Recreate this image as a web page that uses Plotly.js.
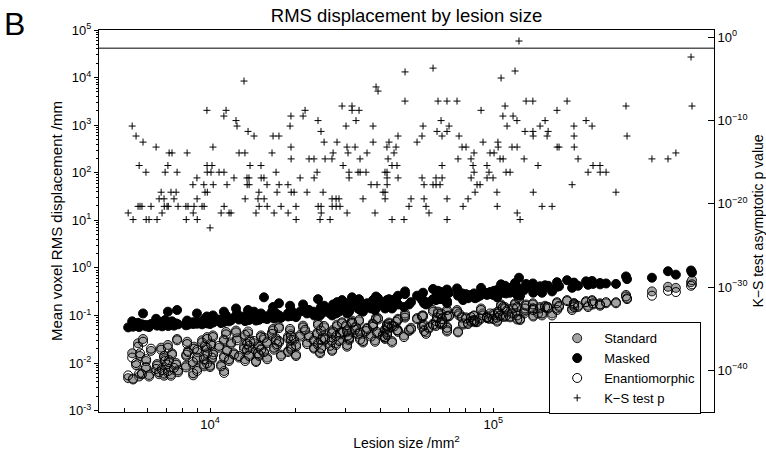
<!DOCTYPE html>
<html>
<head>
<meta charset="utf-8">
<script src="https://cdn.plot.ly/plotly-3.0.1.min.js"></script>
<style>
  html, body { margin: 0; padding: 0; background: #fff; }
  #chart { width: 766px; height: 457px; }
</style>
</head>
<body>
<div id="chart"></div>
<script>
// lesion size /mm^2, one entry per lesion
var lesionSize = [
  5140,5310,5350,5480,5570,5620,5660,5750,5800,5940,
  5950,6090,6190,6450,6500,6610,6720,6770,6880,6890,
  6940,7050,7100,7120,7170,7280,7340,7460,7590,7650,
  7710,8220,8240,8300,8360,8700,8720,8780,8990,9000,
  9010,9370,9510,9530,9600,9750,9760,9770,9780,10000,
  10080,10160,10240,10260,10760,10940,11190,11200,11210,11390,
  11480,11670,11860,12150,12350,12450,12660,13180,13280,13300,
  13500,13520,13620,13720,13740,13840,14300,14530,14770,14880,
  14900,15130,15150,15500,15520,15890,15910,16550,16690,16830,
  17100,17240,17510,17530,17810,18840,18860,19160,19300,19310,
  19330,19340,19800,20110,20130,20790,21300,21650,22000,22360,
  23280,23300,23870,24050,24070,24450,24640,24660,24680,25060,
  25270,25470,26530,26940,26960,26980,27190,27850,27870,28070,
  28530,28760,29240,29480,30200,30440,30460,30700,30940,30960,
  31700,31720,32500,32760,33300,33570,33840,33860,34670,35530,
  35820,37010,37610,37630,38230,38550,38860,39170,40800,41450,
  41470,41490,42120,42140,42160,42180,42500,42830,43880,43900,
  44610,45340,45710,46080,46100,48390,48770,48790,50390,51220,
  53790,56010,56030,56480,56940,56960,57870,59290,61250,61270,
  62760,62780,63280,63800,64850,65390,65900,65920,65940,68610,
  68630,68650,68670,69770,74450,75060,75680,77550,78190,80110,
  81430,83420,83460,84800,85480,85520,86200,87600,89780,90510,
  91980,94980,95020,96560,97360,99770,100600,103000,103200,103800,
  104000,105600,106500,108100,108300,110000,110900,111800,114600,116400,
  117400,119300,121200,121300,121400,123200,124300,128400,129400,130500,
  137900,138000,138200,138300,143800,146200,148600,152300,154800,156100,
  161200,167800,168000,170600,182100,189700,192600,192800,193000,199100,
  212500,216000,223100,224900,238000,238200,250000,271000,294000,296500,
  363000,413600,441000,498800,502800
];

// mean voxel RMS displacement /mm, standard registration
var standardRms = [
  0.0048,0.016,0.0045,0.009,0.026,0.0052,0.014,0.0062,0.032,0.0075,
  0.011,0.0056,0.018,0.0068,0.0095,0.0058,0.021,0.0078,0.013,0.0054,
  0.012,0.0085,0.024,0.0062,0.0105,0.0058,0.016,0.0072,0.010,0.032,
  0.0064,0.0088,0.014,0.028,0.018,0.0095,0.0055,0.022,0.012,0.0075,
  0.017,0.030,0.013,0.0085,0.024,0.019,0.011,0.035,0.015,0.0082,
  0.026,0.012,0.038,0.017,0.021,0.0092,0.029,0.014,0.0068,0.045,
  0.019,0.011,0.025,0.016,0.048,0.033,0.013,0.022,0.036,0.012,
  0.018,0.027,0.042,0.015,0.021,0.030,0.026,0.011,0.017,0.024,
  0.014,0.038,0.020,0.031,0.016,0.028,0.013,0.044,0.052,0.019,
  0.033,0.023,0.058,0.027,0.015,0.036,0.018,0.048,0.040,0.029,
  0.024,0.019,0.034,0.014,0.022,0.039,0.061,0.046,0.027,0.035,
  0.031,0.020,0.043,0.068,0.024,0.017,0.052,0.029,0.021,0.037,
  0.056,0.033,0.025,0.045,0.028,0.019,0.050,0.034,0.026,0.064,
  0.031,0.040,0.072,0.047,0.058,0.049,0.022,0.041,0.036,0.030,
  0.078,0.066,0.053,0.060,0.038,0.075,0.046,0.033,0.027,0.044,
  0.055,0.039,0.070,0.062,0.030,0.090,0.042,0.082,0.040,0.051,
  0.036,0.032,0.066,0.054,0.047,0.041,0.059,0.071,0.056,0.029,
  0.063,0.070,0.052,0.085,0.045,0.038,0.095,0.11,0.047,0.055,
  0.088,0.094,0.062,0.10,0.060,0.050,0.044,0.053,0.067,0.13,
  0.071,0.064,0.096,0.12,0.066,0.10,0.089,0.075,0.068,0.12,
  0.092,0.058,0.049,0.10,0.13,0.046,0.10,0.095,0.064,0.091,
  0.070,0.087,0.078,0.083,0.097,0.080,0.072,0.076,0.082,0.14,
  0.11,0.094,0.088,0.090,0.10,0.089,0.11,0.085,0.078,0.12,
  0.11,0.10,0.17,0.14,0.098,0.15,0.094,0.13,0.096,0.12,
  0.15,0.18,0.14,0.11,0.086,0.24,0.080,0.12,0.13,0.17,
  0.18,0.14,0.13,0.10,0.12,0.15,0.10,0.16,0.14,0.15,
  0.11,0.19,0.14,0.15,0.21,0.14,0.18,0.17,0.16,0.15,
  0.20,0.16,0.21,0.17,0.18,0.17,0.18,0.19,0.27,0.23,
  0.32,0.40,0.38,0.50,0.55
];

// masked registration
var maskedRms = [
  0.056,0.075,0.058,0.062,0.070,0.057,0.060,0.065,0.11,0.059,
  0.063,0.057,0.066,0.085,0.061,0.064,0.072,0.059,0.068,0.062,
  0.080,0.063,0.12,0.060,0.066,0.064,0.075,0.061,0.068,0.13,
  0.065,0.062,0.070,0.078,0.064,0.072,0.066,0.069,0.11,0.067,
  0.074,0.065,0.078,0.070,0.085,0.095,0.072,0.068,0.081,0.066,
  0.092,0.074,0.10,0.071,0.082,0.069,0.12,0.078,0.073,0.10,
  0.086,0.075,0.079,0.090,0.14,0.11,0.082,0.095,0.088,0.076,
  0.084,0.092,0.13,0.080,0.086,0.10,0.12,0.078,0.083,0.094,
  0.081,0.11,0.090,0.24,0.087,0.096,0.084,0.12,0.15,0.086,
  0.11,0.093,0.18,0.10,0.089,0.11,0.095,0.16,0.13,0.12,
  0.10,0.097,0.11,0.092,0.10,0.12,0.17,0.14,0.11,0.13,
  0.12,0.10,0.11,0.22,0.099,0.10,0.15,0.12,0.11,0.13,
  0.16,0.12,0.11,0.14,0.12,0.10,0.17,0.13,0.11,0.19,
  0.12,0.14,0.21,0.15,0.18,0.16,0.11,0.14,0.13,0.12,
  0.24,0.20,0.17,0.19,0.14,0.22,0.15,0.13,0.12,0.16,
  0.18,0.14,0.21,0.19,0.13,0.25,0.15,0.23,0.16,0.17,
  0.15,0.14,0.21,0.18,0.16,0.15,0.20,0.22,0.19,0.14,
  0.21,0.23,0.18,0.26,0.17,0.15,0.28,0.32,0.17,0.19,
  0.26,0.28,0.21,0.30,0.20,0.18,0.17,0.19,0.22,0.36,
  0.23,0.21,0.29,0.33,0.22,0.31,0.27,0.24,0.22,0.35,
  0.28,0.20,0.18,0.30,0.37,0.26,0.31,0.29,0.21,0.28,
  0.23,0.27,0.25,0.26,0.29,0.25,0.23,0.24,0.26,0.38,
  0.32,0.29,0.27,0.28,0.31,0.27,0.33,0.26,0.24,0.35,
  0.33,0.31,0.45,0.40,0.30,0.42,0.29,0.38,0.30,0.35,
  0.41,0.48,0.40,0.34,0.27,0.62,0.26,0.34,0.38,0.46,
  0.47,0.39,0.37,0.30,0.34,0.41,0.30,0.43,0.40,0.42,
  0.32,0.50,0.40,0.41,0.55,0.38,0.49,0.46,0.43,0.42,
  0.52,0.44,0.53,0.46,0.48,0.45,0.47,0.46,0.66,0.58,
  0.62,0.85,0.72,0.88,0.80
];

// enantiomorphic registration
var enantioRms = [
  0.0055,0.013,0.0047,0.010,0.022,0.006,0.016,0.0058,0.028,0.0082,
  0.012,0.0052,0.020,0.0075,0.0088,0.0064,0.019,0.0071,0.014,0.0060,
  0.011,0.0093,0.021,0.0068,0.0115,0.0054,0.015,0.0079,0.0092,0.030,
  0.0070,0.0081,0.015,0.025,0.017,0.0105,0.0061,0.020,0.013,0.0068,
  0.019,0.027,0.012,0.0093,0.022,0.021,0.0098,0.032,0.016,0.0088,
  0.024,0.013,0.035,0.015,0.023,0.0085,0.031,0.013,0.0062,0.040,
  0.018,0.012,0.027,0.015,0.044,0.030,0.014,0.020,0.039,0.011,
  0.019,0.025,0.046,0.014,0.023,0.028,0.029,0.0105,0.016,0.022,
  0.015,0.035,0.019,0.034,0.017,0.026,0.012,0.041,0.048,0.021,
  0.030,0.025,0.054,0.029,0.014,0.033,0.017,0.052,0.037,0.031,
  0.022,0.020,0.031,0.015,0.024,0.036,0.056,0.050,0.025,0.038,
  0.029,0.021,0.040,0.063,0.026,0.016,0.048,0.031,0.020,0.034,
  0.060,0.031,0.023,0.042,0.030,0.018,0.046,0.037,0.024,0.059,
  0.029,0.043,0.068,0.044,0.062,0.046,0.024,0.038,0.034,0.032,
  0.072,0.070,0.050,0.056,0.041,0.080,0.043,0.031,0.029,0.047,
  0.052,0.036,0.066,0.058,0.028,0.085,0.045,0.088,0.037,0.048,
  0.034,0.035,0.062,0.058,0.044,0.039,0.055,0.067,0.060,0.027,
  0.059,0.074,0.049,0.080,0.048,0.035,0.090,0.10,0.050,0.051,
  0.083,0.099,0.058,0.095,0.064,0.047,0.041,0.056,0.063,0.12,
  0.076,0.060,0.090,0.11,0.070,0.11,0.084,0.071,0.064,0.13,
  0.097,0.055,0.046,0.096,0.12,0.044,0.11,0.090,0.068,0.086,
  0.066,0.092,0.074,0.079,0.10,0.076,0.077,0.072,0.087,0.13,
  0.10,0.089,0.093,0.085,0.11,0.084,0.10,0.090,0.074,0.11,
  0.12,0.097,0.16,0.15,0.093,0.14,0.099,0.12,0.091,0.11,
  0.14,0.17,0.15,0.10,0.082,0.22,0.085,0.11,0.14,0.16,
  0.17,0.13,0.14,0.095,0.11,0.14,0.11,0.15,0.15,0.14,
  0.10,0.18,0.13,0.16,0.20,0.13,0.17,0.18,0.15,0.16,
  0.19,0.15,0.20,0.18,0.17,0.16,0.19,0.18,0.25,0.22,
  0.26,0.33,0.31,0.42,0.45
];

// K-S test asymptotic p value, per lesion
var ksP = [
  8e-22,2.2e-11,1.3e-22,1.4e-12,5e-21,4e-16,5e-21,5e-21,2.6e-13,6.3e-17,
  1.3e-22,1.3e-22,5e-21,6.6e-14,1.3e-22,4e-20,2.5e-19,8e-22,4e-20,5e-21,
  6.3e-17,5e-21,4e-16,5e-21,1.3e-14,2.5e-19,1.3e-14,4e-20,2.5e-19,6.3e-17,
  5e-21,5e-21,1.3e-22,1.3e-14,5e-21,2e-18,8e-22,5e-21,1.3e-17,4e-20,
  1.3e-22,5e-21,2e-18,5e-21,2.5e-19,1.7e-9,4e-16,6.3e-17,2.5e-19,1.3e-23,
  6.3e-17,4e-16,6.6e-14,2e-18,6.3e-17,8e-22,3.5e-10,6.3e-17,5e-21,1.7e-9,
  2e-18,8e-22,8e-22,1.3e-17,1e-10,2.2e-11,1.3e-14,5.6e-6,1.3e-14,4e-20,
  1.3e-17,2e-18,5e-12,1.3e-17,2e-18,4e-16,1.4e-12,8e-22,4e-20,2.5e-19,
  5e-21,4e-16,1.3e-17,1.3e-17,4e-20,2e-18,5e-21,1.3e-14,1.4e-12,8e-22,
  6.3e-17,2.5e-19,1.4e-12,2e-18,5e-21,2e-18,8e-22,2.2e-11,3.5e-10,6.6e-14,
  2.5e-15,2.5e-19,2.5e-19,5e-21,1.3e-22,1.3e-17,3.5e-10,1.7e-9,2.5e-19,2.5e-15,
  2.5e-15,1.3e-17,6.3e-17,1e-10,5e-21,1.3e-22,5e-12,5e-21,8e-22,2.5e-19,
  2.6e-13,2.5e-15,1.3e-22,2.5e-15,4e-20,5e-21,1.3e-14,4e-20,5e-21,2.6e-13,
  4e-20,5e-21,5.6e-9,4e-16,2.2e-11,6.6e-14,8e-22,1.3e-14,6.3e-17,1.3e-17,
  5.6e-9,1.7e-9,6.6e-14,1e-10,6.3e-17,1.7e-9,2.5e-15,6.3e-17,4e-20,6.3e-17,
  1.3e-14,2e-18,2.2e-11,2.6e-13,8e-22,1.1e-6,2e-18,3.5e-7,2.5e-19,6.3e-17,
  2.5e-19,4e-20,6.6e-14,6.3e-17,1.3e-17,2e-18,2.5e-15,2.6e-13,4e-16,1.3e-22,
  1.3e-14,6.6e-14,4e-16,1.4e-12,1.3e-17,1.3e-22,2.2e-8,7e-5,5e-21,4e-20,
  2.6e-13,1.4e-12,1.3e-17,2.2e-11,2e-18,4e-20,5e-21,8e-22,2e-18,2e-4,
  1.3e-17,2e-18,5e-12,2.2e-8,2e-18,1e-10,1.4e-12,4e-16,1.3e-17,2.2e-8,
  5e-12,4e-20,1.3e-22,2.2e-11,2.2e-8,2.5e-15,1.4e-12,6.6e-14,5e-21,6.6e-14,
  4e-20,2.5e-15,1.3e-17,4e-16,1.3e-14,6.3e-17,2.5e-19,2e-18,2e-18,1.7e-9,
  2.6e-13,4e-16,1.3e-17,6.3e-17,1.3e-14,1.3e-17,1.3e-14,2.5e-19,5e-21,2.6e-13,
  6.6e-14,2.5e-15,1.3e-5,3.5e-10,2.5e-15,5.6e-9,6.3e-17,2.2e-11,6.3e-17,6.6e-14,
  3.5e-10,9e-5,1e-10,6.6e-14,8e-22,0.36,1.3e-22,2.5e-15,5e-12,2.2e-8,
  2.2e-8,5e-12,1.4e-12,2.5e-19,4e-16,2.2e-11,5e-21,1e-10,1.4e-12,5e-12,
  5e-21,1.7e-9,6.6e-14,6.6e-14,2.2e-8,2e-18,2.2e-11,1.4e-12,6.6e-14,2.5e-15,
  1e-10,6.3e-17,2.2e-11,4e-16,4e-16,6.3e-17,6.3e-17,2.5e-19,5.6e-9,1.4e-12,
  2.5e-15,2.5e-15,1.3e-14,4.3e-3,5.6e-9
];

var alphaLevel = 0.05;

// tick labels
var xTickVals = [1e4, 1e5];
var xTickText = ['10<sup>4</sup>', '10<sup>5</sup>'];
var yTickVals = [1e-3, 1e-2, 1e-1, 1, 1e1, 1e2, 1e3, 1e4, 1e5];
var yTickText = ['10<sup>-3</sup>', '10<sup>-2</sup>', '10<sup>-1</sup>', '10<sup>0</sup>',
                 '10<sup>1</sup>', '10<sup>2</sup>', '10<sup>3</sup>', '10<sup>4</sup>', '10<sup>5</sup>'];
var y2TickVals = [1e-40, 1e-30, 1e-20, 1e-10, 1];
var y2TickText = ['10<sup>\u221240</sup>', '10<sup>\u221230</sup>', '10<sup>\u221220</sup>',
                  '10<sup>\u221210</sup>', '10<sup>0</sup>'];

// minor ticks 2..9 for each decade
function minorTicks(lo, hi) {
    var out = [];
    for (var d = lo; d < hi; d++) {
        for (var k = 2; k <= 9; k++) out.push(k * Math.pow(10, d));
    }
    return out;
}

var font = 'Liberation Sans, Arial, sans-serif';

var data = [
    {
        x: lesionSize, y: standardRms, name: 'Standard', type: 'scatter', mode: 'markers',
        marker: {symbol: 'circle', size: 9, color: '#a3a3a3', line: {color: '#1a1a1a', width: 1}}
    },
    {
        x: lesionSize, y: maskedRms, name: 'Masked', type: 'scatter', mode: 'markers',
        marker: {symbol: 'circle', size: 9, color: '#000', line: {color: '#000', width: 1}}
    },
    {
        x: lesionSize, y: enantioRms, name: 'Enantiomorphic', type: 'scatter', mode: 'markers',
        marker: {symbol: 'circle-open', size: 9, color: '#000', line: {color: '#000', width: 1}}
    },
    {
        x: lesionSize, y: ksP, name: 'K\u2212S test p', type: 'scatter', mode: 'markers', yaxis: 'y2',
        marker: {symbol: 'cross-thin-open', size: 5, color: '#000', line: {color: '#000', width: 1}}
    }
];

var layout = {
    width: 766, height: 457,
    margin: {l: 99, r: 52, t: 30, b: 45},
    paper_bgcolor: 'white', plot_bgcolor: 'white',
    font: {family: font, color: '#000', size: 13},
    hovermode: false,
    title: {
        text: 'RMS displacement by lesion size',
        font: {family: font, size: 18.5, color: '#000'},
        x: 0.5, xref: 'paper', y: 0.966, yref: 'container', yanchor: 'middle'
    },
    xaxis: {
        type: 'log', range: [3.608, 5.779],
        tickvals: xTickVals, ticktext: xTickText,
        ticks: 'inside', ticklen: 4, tickcolor: '#000',
        minor: {tickvals: minorTicks(3, 6), ticks: 'inside', ticklen: 4, tickcolor: '#000', showgrid: false},
        showline: true, linecolor: '#000', linewidth: 1, mirror: true,
        showgrid: false, zeroline: false,
        tickfont: {size: 13},
        title: {text: 'Lesion size /mm<sup>2</sup>', font: {size: 14}, standoff: 7}
    },
    yaxis: {
        type: 'log', range: [-3.03, 5.0],
        tickvals: yTickVals, ticktext: yTickText,
        ticks: 'outside', ticklen: 4, tickcolor: '#000',
        minor: {tickvals: minorTicks(-3, 5), ticks: 'outside', ticklen: 2, tickcolor: '#000', showgrid: false},
        showline: true, linecolor: '#000', linewidth: 1,
        showgrid: false, zeroline: false,
        tickfont: {size: 13},
        title: {text: 'Mean voxel RMS displacement /mm', font: {size: 15}, standoff: 2}
    },
    yaxis2: {
        type: 'log', range: [-45.0, 0.88], overlaying: 'y', side: 'right', anchor: 'x',
        tickvals: y2TickVals, ticktext: y2TickText,
        ticks: 'inside', ticklen: 6, tickcolor: '#000',
        showline: true, linecolor: '#000', linewidth: 1,
        showgrid: false, zeroline: false,
        tickfont: {size: 13},
        title: {text: 'K\u2212S test asymptotic p value', font: {size: 14}, standoff: 6}
    },
    legend: {
        x: 0.732, y: 0.235, xanchor: 'left', yanchor: 'top',
        bgcolor: 'white', bordercolor: '#000', borderwidth: 1,
        font: {size: 13}, tracegroupgap: 0, itemwidth: 44
    },
    shapes: [{
        type: 'line', xref: 'paper', x0: 0, x1: 1, yref: 'y2', y0: alphaLevel, y1: alphaLevel,
        line: {color: '#000', width: 1}
    }],
    annotations: [{
        text: 'B', xref: 'paper', yref: 'paper', x: -0.158, y: 1.068,
        xanchor: 'left', yanchor: 'top', showarrow: false,
        font: {family: font, size: 32, color: '#000'}
    }]
};

Plotly.newPlot('chart', data, layout, {staticPlot: true, displayModeBar: false});
</script>
</body>
</html>
